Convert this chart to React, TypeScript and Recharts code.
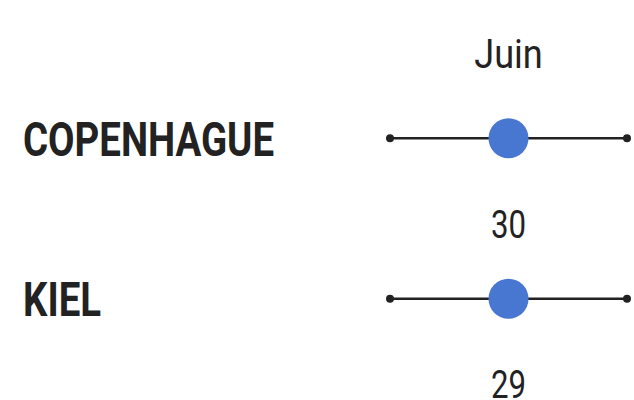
import React from 'react';
import { ScatterChart, Scatter, XAxis, YAxis, ReferenceLine, ReferenceDot, LabelList } from 'recharts';

const cities = ['COPENHAGUE', 'KIEL'];
const months = ['Juin'];
const values = [30, 29];

// each month occupies one unit band on the x axis, centred on its index
const monthIndex = 0;
const bandStart = monthIndex - 0.5;
const bandEnd = monthIndex + 0.5;

const points = cities.map((city, i) => ({ city, month: monthIndex, value: values[i] }));

const FONT = 'Roboto, sans-serif';
const BLUE = '#4877d2';
const INK = '#222';

// the original uses a condensed face, so squeeze Roboto horizontally
function CondensedText({ x, y, anchor = 'start', squeeze = 0.8, children, ...rest }: any) {
    return (
        <g transform={`translate(${x} ${y}) scale(${squeeze} 1)`}>
            <text x={0} y={0} textAnchor={anchor} fontFamily={FONT} fill={INK} {...rest}>
                {children}
            </text>
        </g>
    );
}

function CityTick({ y, payload }: any) {
    return (
        <CondensedText x={23} y={y} dy="0.36em" fontWeight={700} fontSize={48} squeeze={0.8}>
            {payload.value}
        </CondensedText>
    );
}

function MonthTick({ x, y, payload }: any) {
    return (
        <CondensedText x={x} y={y} dy={18} anchor="middle" fontSize={41} squeeze={0.88}>
            {months[payload.value]}
        </CondensedText>
    );
}

function ValueLabel({ x, y, width, value }: any) {
    return (
        <CondensedText x={x + width / 2} y={y} dy={104} anchor="middle" fontSize={39} squeeze={0.8}>
            {value}
        </CondensedText>
    );
}

export default function App() {
    return (
        <div style={{ position: 'absolute', left: 0, top: 0 }}>
            <ScatterChart width={634} height={400} margin={{ top: 28, right: 7, bottom: 21, left: 0 }}>
                <XAxis
                    type="number"
                    dataKey="month"
                    orientation="top"
                    domain={[bandStart, bandEnd]}
                    ticks={[monthIndex]}
                    tick={<MonthTick />}
                    axisLine={false}
                    tickLine={false}
                    height={30}
                />
                <YAxis
                    type="category"
                    dataKey="city"
                    reversed
                    width={390}
                    tick={<CityTick />}
                    axisLine={false}
                    tickLine={false}
                />
                {cities.map((city) => (
                    <ReferenceLine
                        key={city + '-track'}
                        segment={[{ x: bandStart, y: city }, { x: bandEnd, y: city }]}
                        stroke={INK}
                        strokeWidth={2.5}
                        ifOverflow="visible"
                    />
                ))}
                {cities.map((city) => (
                    <ReferenceDot key={city + '-s'} x={bandStart} y={city} r={4} fill={INK} stroke="none" ifOverflow="visible" />
                ))}
                {cities.map((city) => (
                    <ReferenceDot key={city + '-e'} x={bandEnd} y={city} r={4} fill={INK} stroke="none" ifOverflow="visible" />
                ))}
                <Scatter
                    data={points}
                    dataKey="month"
                    fill={BLUE}
                    isAnimationActive={false}
                    shape={(p: any) => <circle cx={p.cx} cy={p.cy} r={20} fill={BLUE} />}
                >
                    <LabelList dataKey="value" content={<ValueLabel />} />
                </Scatter>
            </ScatterChart>
        </div>
    );
}
